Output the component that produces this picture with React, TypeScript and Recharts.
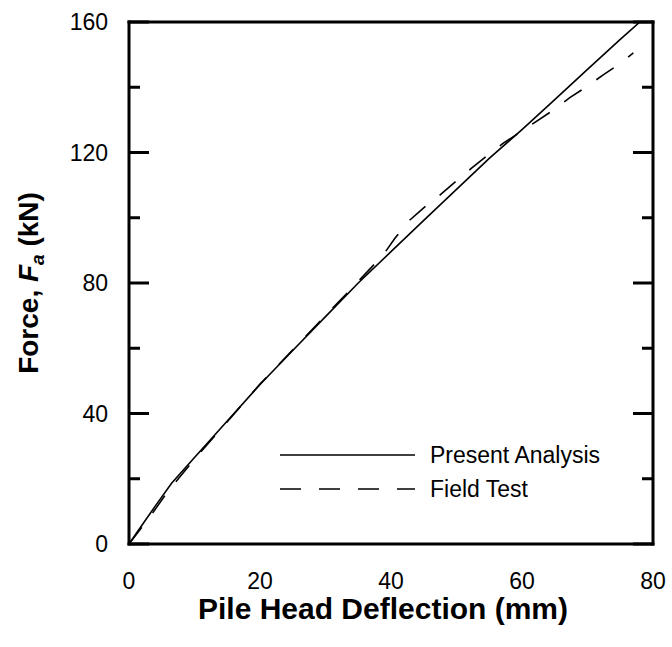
import React from "react";
import { LineChart, Line, XAxis, YAxis, Legend } from "recharts";

// Present Analysis (solid)
const analysisDeflection = [0, 2, 4, 6.5, 10, 15, 20, 25, 30, 35, 40, 45, 50, 55, 60, 65, 70, 75, 78];
const analysisForce = [0, 5.8, 11.6, 18.6, 26.5, 37.7, 48.9, 59.3, 69.7, 80, 89.6, 99.2, 108.7, 118.2, 127, 136.2, 145.5, 154.7, 160];

// Field Test (dashed)
const fieldDeflection = [0, 3, 6, 10, 15, 20, 25, 30, 35, 38.8, 40.6, 42.6, 44.9, 47.5, 50, 52.3, 54.6, 57.1, 60, 64.8, 67.3, 69.9, 72.4, 75, 77];
const fieldForce = [0, 7.8, 16.3, 26, 37.5, 49, 59.5, 70, 80.5, 88.6, 93.7, 98.8, 102.9, 107, 111.3, 115.2, 118.9, 122.8, 126.6, 133, 136.8, 140.2, 143.8, 147.3, 150.5];

const seriesNames = ["Present Analysis", "Field Test"];

const xMajorTicks = [0, 20, 40, 60, 80];
const xMinorTicks = [10, 30, 50, 70];
const yMajorTicks = [0, 40, 80, 120, 160];
const yMinorTicks = [20, 60, 100, 140];

const analysisData = analysisDeflection.map((d, i) => ({ d, f: analysisForce[i] }));
const fieldData = fieldDeflection.map((d, i) => ({ d, f: fieldForce[i] }));

const FONT = "'Liberation Sans', Arial, Helvetica, sans-serif";
const black = "#000";
const frame = { stroke: black, strokeWidth: 3, strokeLinecap: "square" as const };
const tickStroke = { stroke: black, strokeWidth: 3 };

// tick marks only, no label text
const NoLabel = () => <g />;

function XTitle(props: any) {
  const { viewBox } = props;
  return (
    <text
      x={viewBox.x + viewBox.width / 2 - 8}
      y={viewBox.y + 75}
      textAnchor="middle"
      fontFamily={FONT}
      fontSize={30}
      fontWeight="bold"
      fill={black}
    >
      Pile Head Deflection (mm)
    </text>
  );
}

function YTitle(props: any) {
  const { viewBox } = props;
  const cx = viewBox.x + 28;
  const cy = viewBox.y + viewBox.height / 2;
  return (
    <text
      x={cx}
      y={cy}
      dy={10}
      transform={`rotate(-90, ${cx}, ${cy})`}
      textAnchor="middle"
      fontFamily={FONT}
      fontSize={28}
      fontWeight="bold"
      fill={black}
    >
      Force,{" "}
      <tspan fontStyle="italic">F</tspan>
      <tspan fontStyle="italic" fontSize={19} dy={6}>a</tspan>
      <tspan dy={-6}> (kN)</tspan>
    </text>
  );
}

function LegendBox(props: any) {
  const items = [...(props.payload || [])].sort(
    (a: any, b: any) => seriesNames.indexOf(a.value) - seriesNames.indexOf(b.value)
  );
  return (
    <svg width={360} height={70} style={{ display: "block" }}>
      {items.map((it: any, i: number) => {
        const y = 15 + i * 34;
        return (
          <g key={i}>
            <line
              x1={0}
              x2={135}
              y1={y}
              y2={y}
              stroke={black}
              strokeWidth={1.6}
              strokeDasharray={it.payload?.strokeDasharray}
            />
            <text x={150} y={y + 8} fontFamily={FONT} fontSize={23} fill={black}>
              {it.value}
            </text>
          </g>
        );
      })}
    </svg>
  );
}

export default function App() {
  return (
    <div style={{ position: "absolute", left: 0, top: 0, background: "#fff" }}>
      <LineChart width={672} height={647} margin={{ top: 22, right: 19, left: 0, bottom: 0 }}>
        {/* labelled axes */}
        <XAxis
          xAxisId="x"
          dataKey="d"
          type="number"
          domain={[0, 80]}
          ticks={xMajorTicks}
          interval={0}
          allowDataOverflow
          height={103}
          axisLine={false}
          tickLine={false}
          tickSize={0}
          tickMargin={29}
          tick={{ fill: black, fontSize: 23, fontFamily: FONT }}
          label={<XTitle />}
        />
        <YAxis
          yAxisId="y"
          dataKey="f"
          type="number"
          domain={[0, 160]}
          ticks={yMajorTicks}
          interval={0}
          allowDataOverflow
          width={129}
          axisLine={false}
          tickLine={false}
          tickSize={0}
          tickMargin={21}
          tick={{ fill: black, fontSize: 23, fontFamily: FONT }}
          label={<YTitle />}
        />
        {/* inward ticks + frame */}
        <XAxis xAxisId="bMaj" type="number" domain={[0, 80]} ticks={xMajorTicks} interval={0} allowDataOverflow mirror height={1} tick={NoLabel} tickSize={20} tickLine={tickStroke} axisLine={frame} />
        <XAxis xAxisId="bMin" type="number" domain={[0, 80]} ticks={xMinorTicks} interval={0} allowDataOverflow mirror height={1} tick={NoLabel} tickSize={10} tickLine={tickStroke} axisLine={false} />
        <XAxis xAxisId="tMaj" orientation="top" type="number" domain={[0, 80]} ticks={xMajorTicks} interval={0} allowDataOverflow mirror height={1} tick={NoLabel} tickSize={20} tickLine={tickStroke} axisLine={frame} />
        <XAxis xAxisId="tMin" orientation="top" type="number" domain={[0, 80]} ticks={xMinorTicks} interval={0} allowDataOverflow mirror height={1} tick={NoLabel} tickSize={10} tickLine={tickStroke} axisLine={false} />
        <YAxis yAxisId="lMaj" type="number" domain={[0, 160]} ticks={yMajorTicks} interval={0} allowDataOverflow mirror width={1} tick={NoLabel} tickSize={20} tickLine={tickStroke} axisLine={frame} />
        <YAxis yAxisId="lMin" type="number" domain={[0, 160]} ticks={yMinorTicks} interval={0} allowDataOverflow mirror width={1} tick={NoLabel} tickSize={10} tickLine={tickStroke} axisLine={false} />
        <YAxis yAxisId="rMaj" orientation="right" type="number" domain={[0, 160]} ticks={yMajorTicks} interval={0} allowDataOverflow mirror width={1} tick={NoLabel} tickSize={20} tickLine={tickStroke} axisLine={frame} />
        <YAxis yAxisId="rMin" orientation="right" type="number" domain={[0, 160]} ticks={yMinorTicks} interval={0} allowDataOverflow mirror width={1} tick={NoLabel} tickSize={10} tickLine={tickStroke} axisLine={false} />

        <Line
          xAxisId="x"
          yAxisId="y"
          data={analysisData}
          dataKey="f"
          name={seriesNames[0]}
          type="linear"
          stroke={black}
          strokeWidth={1.6}
          dot={false}
          activeDot={false}
          isAnimationActive={false}
        />
        <Line
          xAxisId="x"
          yAxisId="y"
          data={fieldData}
          dataKey="f"
          name={seriesNames[1]}
          type="linear"
          stroke={black}
          strokeWidth={1.6}
          strokeDasharray="21 18"
          dot={false}
          activeDot={false}
          isAnimationActive={false}
        />
        <Legend
          layout="vertical"
          align="center"
          verticalAlign="middle"
          content={<LegendBox />}
          wrapperStyle={{ left: 280, top: 440, width: 360 }}
        />
      </LineChart>
    </div>
  );
}
